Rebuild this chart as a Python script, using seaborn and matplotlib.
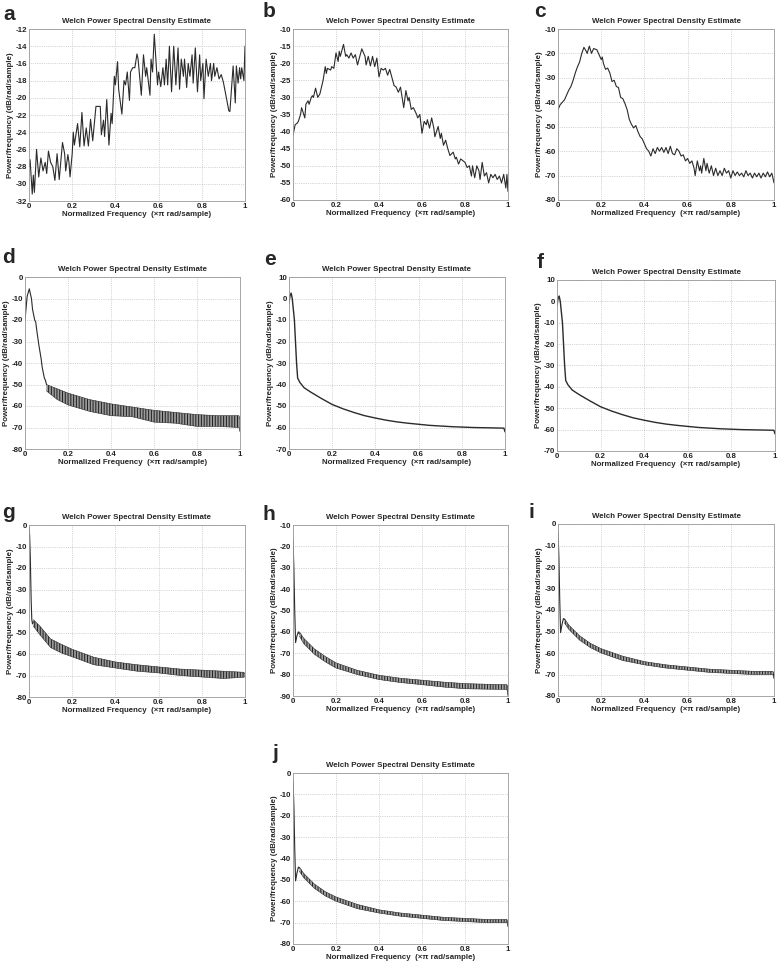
import numpy as np
import pandas as pd
import matplotlib
matplotlib.use('Agg')
import matplotlib.pyplot as plt
import seaborn as sns

sns.set_style('white')
plt.rcParams['font.family'] = ['Liberation Sans', 'DejaVu Sans']
plt.rcParams['font.weight'] = 'bold'
plt.rcParams['axes.unicode_minus'] = False
plt.rcParams['hatch.linewidth'] = 0.7

# ---- panel a (noisy spectrum) ----
a_x = [0, 0.005, 0.015, 0.02, 0.025, 0.035, 0.045, 0.055, 0.065, 0.075, 0.082, 0.09, 0.1, 0.11,
       0.12, 0.13, 0.14, 0.155, 0.165, 0.17, 0.18, 0.185, 0.19, 0.2, 0.205, 0.21, 0.225, 0.235,
       0.245, 0.255, 0.265, 0.275, 0.285, 0.295, 0.31, 0.32, 0.33, 0.335, 0.345, 0.35, 0.36,
       0.37, 0.38, 0.385, 0.395, 0.4, 0.41, 0.415, 0.43, 0.44, 0.447, 0.455, 0.465, 0.47, 0.48,
       0.49, 0.5, 0.505, 0.52, 0.53, 0.54, 0.545, 0.56, 0.565, 0.572, 0.58, 0.595, 0.6, 0.61,
       0.62, 0.627, 0.635, 0.642, 0.65, 0.66, 0.67, 0.68, 0.69, 0.697, 0.705, 0.715, 0.72, 0.73,
       0.737, 0.745, 0.755, 0.76, 0.77, 0.78, 0.79, 0.795, 0.805, 0.81, 0.82, 0.83, 0.84, 0.845,
       0.855, 0.86, 0.87, 0.88, 0.89, 0.9, 0.91, 0.925, 0.93, 0.945, 0.955, 0.96, 0.968, 0.975,
       0.98, 0.985, 0.995, 1.0]
a_y = [-28, -27.2, -31.2, -29, -31, -26, -29.2, -27, -28.5, -27.5, -28.8, -26.2, -27.5, -28,
       -29.6, -26.5, -29.5, -25.2, -26.5, -28.5, -26.6, -27.5, -29.2, -26.5, -24, -25.5, -23, -25.7,
       -21.7, -25.6, -23.5, -25.6, -22.5, -25, -21, -21, -21, -24.3, -22.6, -24.5, -20.2,
       -25.5, -21.8, -23, -17.5, -18.5, -15.8, -19, -21.9, -18, -18.5, -17, -20.3, -17, -16.5,
       -16.5, -14.9, -15.5, -19.7, -15, -17.5, -16.5, -19.7, -15.5, -17, -12.6, -18.5, -17, -18.7,
       -16.5, -18.5, -15.5, -18.5, -14, -19.3, -14, -18.5, -14.2, -19, -15.5, -17.5, -15.5, -18.8,
       -16, -17.5, -15, -18.3, -14.2, -19.3, -15, -18, -16, -20.1, -15.5, -17.5, -16, -18,
       -16, -17.5, -16.5, -17.8, -17.3, -18.2, -19.5, -21.5, -21.6, -16.3, -20.6, -16.3, -18.3, -16.5,
       -17.8, -16.5, -18, -14]

# ---- panel b ----
b_x = [0, 0.01, 0.02, 0.025, 0.035, 0.04, 0.055, 0.06, 0.07, 0.075, 0.085, 0.09, 0.095, 0.105,
       0.115, 0.125, 0.14, 0.15, 0.155, 0.16, 0.175, 0.18, 0.19, 0.2, 0.21, 0.215, 0.22, 0.235,
       0.245, 0.25, 0.26, 0.27, 0.28, 0.29, 0.3, 0.32, 0.335, 0.34, 0.35, 0.36, 0.37, 0.38,
       0.39, 0.4, 0.41, 0.42, 0.43, 0.44, 0.45, 0.455, 0.47, 0.48, 0.49, 0.5, 0.515, 0.525,
       0.535, 0.54, 0.55, 0.56, 0.575, 0.58, 0.59, 0.6, 0.61, 0.62, 0.625, 0.635, 0.645, 0.655,
       0.66, 0.675, 0.685, 0.69, 0.7, 0.71, 0.72, 0.73, 0.745, 0.755, 0.76, 0.77, 0.78, 0.79,
       0.8, 0.81, 0.82, 0.83, 0.835, 0.845, 0.855, 0.865, 0.87, 0.88, 0.89, 0.9, 0.91, 0.92,
       0.93, 0.94, 0.95, 0.96, 0.97, 0.98, 0.99, 0.995, 1.0]
b_y = [-41, -38, -37.5, -37, -35, -33, -36, -32, -31, -32, -30, -29.5, -30, -27.3,
       -30, -29, -25, -21, -23, -21.5, -22, -21, -21.5, -17, -19.5, -16.5, -18, -14.5,
       -18, -17.5, -18.5, -17, -18.5, -17.5, -20.5, -15.8, -18, -20.5, -18, -20.8, -18, -21,
       -18.5, -24, -21.5, -22, -21.5, -23.5, -21.8, -23, -26.5, -27, -28.5, -27, -33, -28,
       -31, -30, -33.5, -33, -35, -36, -35, -40.5, -37, -38, -36.5, -39, -36, -39,
       -41.5, -38.5, -42, -40.5, -44, -42.5, -45, -47, -46, -48, -47.5, -49.5, -48, -48.5,
       -49, -50.5, -50, -53, -50, -53.5, -50, -51.5, -54, -49, -53, -52, -55, -52.5,
       -53.5, -52.5, -54, -53, -55, -52.5, -56.5, -52.5, -57.5]

# ---- panel c ----
c_x = [0, 0.01, 0.03, 0.04, 0.05, 0.06, 0.07, 0.08, 0.09, 0.1, 0.11, 0.12, 0.13, 0.135,
       0.145, 0.155, 0.165, 0.18, 0.19, 0.2, 0.205, 0.21, 0.22, 0.23, 0.24, 0.25, 0.26, 0.27,
       0.28, 0.29, 0.3, 0.31, 0.32, 0.33, 0.34, 0.35, 0.36, 0.37, 0.38, 0.39, 0.4, 0.41,
       0.42, 0.43, 0.44, 0.45, 0.46, 0.47, 0.48, 0.49, 0.5, 0.51, 0.52, 0.53, 0.54, 0.55,
       0.56, 0.57, 0.58, 0.59, 0.6, 0.61, 0.62, 0.63, 0.635, 0.645, 0.655, 0.66, 0.665, 0.675,
       0.685, 0.69, 0.7, 0.71, 0.72, 0.73, 0.74, 0.75, 0.76, 0.77, 0.78, 0.79, 0.8, 0.81,
       0.82, 0.83, 0.84, 0.85, 0.86, 0.87, 0.88, 0.89, 0.9, 0.91, 0.92, 0.93, 0.94, 0.95,
       0.96, 0.97, 0.98, 0.99, 1.0]
c_y = [-43, -41, -39, -37, -35, -33.5, -31, -28, -25.5, -23.5, -20, -17.5, -19, -20,
       -17, -20, -18, -18.5, -20.5, -22.5, -21.5, -24, -26.5, -26, -28, -31.5, -31, -33.5,
       -34, -38, -38.5, -40.5, -43, -47, -49, -50.5, -49.5, -52, -54, -55, -57, -59,
       -60, -62, -59, -61, -58.5, -60, -58.5, -60.5, -58.5, -61, -58, -61, -61.5, -59,
       -60, -62, -61.5, -64, -63, -65, -64, -67, -70, -64, -68, -66, -69, -63,
       -68, -65, -69, -66, -70, -67, -70, -68, -70, -67, -69, -68, -71, -68,
       -70, -68.5, -70, -69, -70.5, -68, -70, -69, -71, -69, -70.5, -69, -71, -69,
       -70.5, -68.5, -70.5, -69, -73]

# ---- panel d (peak + rippled band) ----
d_head_x = [0, 0.01, 0.02, 0.03, 0.035, 0.045, 0.05, 0.055, 0.065, 0.075, 0.08, 0.09, 0.095, 0.1]
d_head_y = [-20, -9, -5.5, -10, -15, -20, -21, -25, -32, -38, -42, -47, -48, -50]
d_band_x = [0.1, 0.15, 0.2, 0.3, 0.4, 0.5, 0.6, 0.7, 0.8, 0.9, 0.995, 1.0]
d_band_hi = [-50, -52, -54, -57, -59, -60.5, -62, -63, -64, -64.5, -64.5, -66]
d_band_lo = [-53, -57, -59.5, -62.5, -64.5, -65, -67.5, -68, -69.5, -69.5, -70, -72]

# ---- panels e, f (smooth decay) ----
e_x = [0, 0.005, 0.01, 0.015, 0.025, 0.035, 0.04, 0.05, 0.07, 0.1, 0.15, 0.2, 0.25, 0.3, 0.35,
       0.4, 0.45, 0.5, 0.55, 0.6, 0.65, 0.7, 0.75, 0.8, 0.85, 0.9, 0.95, 0.995, 1.0]
e_y = [-2, 1.5, 2.5, 0, -10, -30, -37, -39, -41.5, -43.5, -46.5, -49.3, -51.3, -53, -54.5,
       -55.6, -56.6, -57.4, -58, -58.5, -59, -59.3, -59.6, -59.8, -60, -60.1, -60.2, -60.3, -62]
f_x = [0, 0.005, 0.01, 0.015, 0.025, 0.035, 0.04, 0.05, 0.07, 0.1, 0.15, 0.2, 0.25, 0.3, 0.35,
       0.4, 0.45, 0.5, 0.55, 0.6, 0.65, 0.7, 0.75, 0.8, 0.85, 0.9, 0.95, 0.995, 1.0]
f_y = [-2, 1.5, 2.5, 0, -10, -30, -37, -39, -41.5, -43.5, -46.5, -49.3, -51.3, -53, -54.5,
       -55.6, -56.6, -57.4, -58, -58.5, -59, -59.3, -59.6, -59.8, -60, -60.1, -60.2, -60.3, -62]

# ---- panel g ----
g_head_x = [0, 0.003, 0.006, 0.01, 0.013, 0.016, 0.02]
g_head_y = [-1, -5, -15, -35, -44, -46, -45]
g_band_x = [0.02, 0.05, 0.1, 0.15, 0.2, 0.3, 0.4, 0.5, 0.6, 0.7, 0.8, 0.9, 0.995, 1.0]
g_band_hi = [-44, -47, -53, -55.5, -57.8, -61.5, -63.7, -65, -66, -67, -67.5, -68, -68.5, -69.5]
g_band_lo = [-47, -51, -57, -59.5, -61.3, -65, -66.5, -68, -68.8, -70, -70.7, -71.4, -70.8, -70.5]

# ---- panel h ----
h_head_x = [0, 0.004, 0.008, 0.012, 0.018, 0.025, 0.03]
h_head_y = [-17, -30, -50, -65, -62, -60, -61]
h_band_x = [0.03, 0.05, 0.1, 0.15, 0.2, 0.3, 0.4, 0.5, 0.6, 0.7, 0.8, 0.9, 0.995, 1.0]
h_band_hi = [-60, -63, -68, -71.5, -74.5, -78, -80.3, -81.7, -82.6, -83.5, -84.2, -84.5, -84.7, -86]
h_band_lo = [-62, -65.5, -70.5, -74, -76.9, -80, -82.3, -83.7, -84.7, -85.8, -86.6, -86.8, -86.9, -90]

# ---- panel i ----
i_head_x = [0, 0.004, 0.008, 0.012, 0.018, 0.025, 0.03]
i_head_y = [-3.5, -15, -35, -50.5, -47, -44, -44.5]
i_band_x = [0.03, 0.05, 0.1, 0.15, 0.2, 0.3, 0.4, 0.5, 0.6, 0.7, 0.8, 0.9, 0.995, 1.0]
i_band_hi = [-44, -47, -52, -55.5, -58, -61.5, -64, -65.5, -66.5, -67.5, -68, -68.5, -68.5, -70]
i_band_lo = [-46, -49, -54, -57.5, -60, -63.5, -65.5, -67, -68, -69, -69.5, -70, -70, -72]

# ---- panel j ----
j_head_x = [0, 0.004, 0.008, 0.012, 0.018, 0.025, 0.03]
j_head_y = [-3.5, -15, -35, -50.5, -47, -44, -44.5]
j_band_x = [0.03, 0.05, 0.1, 0.15, 0.2, 0.3, 0.4, 0.5, 0.6, 0.7, 0.8, 0.9, 0.995, 1.0]
j_band_hi = [-44, -47, -52, -55.5, -58, -61.5, -64, -65.5, -66.5, -67.5, -68, -68.5, -68.5, -70]
j_band_lo = [-46, -49, -54, -57.5, -60, -63.5, -65.5, -67, -68, -69, -69.5, -70, -70, -72]

x_ticks = [0, 0.2, 0.4, 0.6, 0.8, 1]
x_tick_labels = ['0', '0.2', '0.4', '0.6', '0.8', '1']

W, H = 778, 968
fig = plt.figure(figsize=(W / 100, H / 100), dpi=100)
fig.patch.set_facecolor('white')

LINE = '#2b2b2b'
FS = 5.7


def make_axes(l, r, t, b):
    return fig.add_axes([l / W, 1 - b / H, (r - l) / W, (b - t) / H])


def style(ax, ylim, ystep):
    ax.set_xlim(0, 1)
    ax.set_ylim(*ylim)
    ax.set_xticks(x_ticks)
    ax.set_xticklabels(x_tick_labels)
    yt = list(range(ylim[0], ylim[1] + 1, ystep))
    ax.set_yticks(yt)
    ax.set_yticklabels([str(v) for v in yt])
    ax.tick_params(direction='in', length=2, width=0.5, labelsize=FS, pad=1.5, colors='#222')
    ax.grid(True, linestyle=':', linewidth=0.5, color='#b0b0b0')
    for s in ax.spines.values():
        s.set_color('#999999')
        s.set_linewidth(0.6)
    ax.set_title('Welch Power Spectral Density Estimate', fontsize=FS, fontweight='bold', pad=4)
    ax.set_xlabel('Normalized Frequency  (×π rad/sample)', fontsize=FS, fontweight='bold', labelpad=1)
    ax.set_ylabel('Power/frequency (dB/rad/sample)', fontsize=FS, fontweight='bold', labelpad=1)


def line(ax, xs, ys, lw=0.8):
    sns.lineplot(x=xs, y=ys, ax=ax, color=LINE, linewidth=lw, estimator=None, sort=False)


def band(ax, hx, hy, bx, hi, lo, shade):
    # rippled part of the spectrum: drawn as its upper/lower envelope
    line(ax, hx, hy)
    ax.fill_between(bx, lo, hi, facecolor=shade, edgecolor='#1e1e1e', hatch='||||||', linewidth=0)
    line(ax, bx, hi, lw=0.4)
    line(ax, bx, lo, lw=0.4)


# row 1
ax = make_axes(29, 245, 29, 201)
line(ax, a_x, a_y)
style(ax, (-32, -12), 2)

ax = make_axes(293, 508, 29, 200)
line(ax, b_x, b_y)
style(ax, (-60, -10), 5)

ax = make_axes(558, 774, 29, 200)
line(ax, c_x, c_y)
style(ax, (-80, -10), 10)

# row 2
ax = make_axes(25, 240, 277, 449)
band(ax, d_head_x, d_head_y, d_band_x, d_band_hi, d_band_lo, '#9a9a9a')
style(ax, (-80, 0), 10)

ax = make_axes(289, 505, 277, 449)
line(ax, e_x, e_y, lw=1.0)
style(ax, (-70, 10), 10)

ax = make_axes(557, 775, 280, 451)
line(ax, f_x, f_y, lw=1.0)
style(ax, (-70, 10), 10)

# row 3
ax = make_axes(29, 245, 525, 697)
band(ax, g_head_x, g_head_y, g_band_x, g_band_hi, g_band_lo, '#9a9a9a')
style(ax, (-80, 0), 10)

ax = make_axes(293, 508, 525, 696)
band(ax, h_head_x, h_head_y, h_band_x, h_band_hi, h_band_lo, '#a5a5a5')
style(ax, (-90, -10), 10)

ax = make_axes(558, 774, 524, 696)
band(ax, i_head_x, i_head_y, i_band_x, i_band_hi, i_band_lo, '#a5a5a5')
style(ax, (-80, 0), 10)

# row 4
ax = make_axes(293, 508, 773, 944)
band(ax, j_head_x, j_head_y, j_band_x, j_band_hi, j_band_lo, '#a5a5a5')
style(ax, (-80, 0), 10)

# panel letters
letters = ['a', 'b', 'c', 'd', 'e', 'f', 'g', 'h', 'i', 'j']
letter_pos = [(3, 20), (263, 17), (534, 17), (2, 263), (264, 265), (537, 268),
              (2, 518), (263, 520), (529, 518), (272, 759)]
for lab, (px, py) in zip(letters, letter_pos):
    fig.text(px / W, 1 - py / H, lab, fontsize=15, fontweight='bold', va='baseline', ha='left')

fig.savefig('out.png', dpi=100)
